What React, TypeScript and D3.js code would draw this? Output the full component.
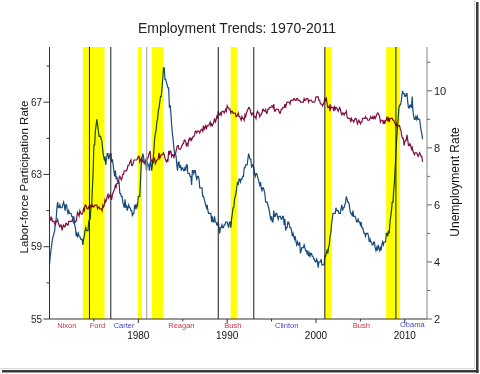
import React from "react";
import * as d3 from "d3";

const W = 480;
const H = 374;

// Monthly series, January 1970 through January 2012
const startYear = 1970;

// Civilian labor-force participation rate (%), monthly
const participationRate: number[] = [
  60.4, 60.6, 60.5, 60.6, 60.4, 60.4, 60.4, 60.3, 60.2, 60.4, 60.4, 60.5, // 1970
  60.3, 60.2, 60.1, 60.2, 60.2, 59.9, 60.1, 60.2, 60.1, 60.1, 60.3, 60.3, // 1971
  60.2, 60.2, 60.4, 60.4, 60.4, 60.4, 60.4, 60.5, 60.4, 60.3, 60.3, 60.4, // 1972
  60.4, 60.7, 60.9, 60.8, 60.7, 61.0, 60.9, 60.8, 60.8, 60.9, 61.1, 61.0, // 1973
  61.3, 61.3, 61.2, 61.1, 61.1, 61.2, 61.3, 61.2, 61.3, 61.2, 61.3, 61.2, // 1974
  61.2, 61.3, 61.3, 61.3, 61.3, 61.1, 61.2, 61.2, 61.1, 61.1, 61.1, 61.0, // 1975
  61.3, 61.2, 61.3, 61.6, 61.5, 61.6, 61.8, 61.9, 61.7, 61.8, 61.9, 61.8, // 1976
  61.6, 61.9, 62.0, 62.1, 62.2, 62.4, 62.3, 62.5, 62.5, 62.5, 62.8, 62.9, // 1977
  62.8, 62.7, 62.8, 63.0, 63.0, 63.2, 63.2, 63.2, 63.2, 63.3, 63.5, 63.5, // 1978
  63.6, 63.7, 63.8, 63.5, 63.5, 63.6, 63.8, 63.8, 63.8, 63.8, 63.8, 63.9, // 1979
  64.0, 64.0, 63.7, 63.8, 63.9, 63.7, 63.8, 63.7, 63.6, 63.7, 63.8, 63.6, // 1980
  63.9, 63.9, 64.1, 64.2, 64.3, 63.7, 63.8, 63.8, 63.6, 63.9, 63.9, 63.6, // 1981
  63.7, 63.8, 63.8, 63.9, 64.2, 63.9, 64.0, 64.1, 64.1, 64.1, 64.2, 64.1, // 1982
  63.9, 63.8, 63.7, 63.8, 63.7, 64.3, 64.1, 64.3, 64.3, 64.0, 64.1, 64.1, // 1983
  63.9, 64.1, 64.1, 64.3, 64.5, 64.6, 64.6, 64.4, 64.4, 64.4, 64.5, 64.6, // 1984
  64.7, 64.7, 64.9, 64.9, 64.8, 64.6, 64.7, 64.6, 64.9, 65.0, 64.9, 65.0, // 1985
  64.9, 65.0, 65.1, 65.1, 65.2, 65.4, 65.4, 65.3, 65.4, 65.4, 65.4, 65.3, // 1986
  65.4, 65.5, 65.5, 65.4, 65.7, 65.5, 65.6, 65.7, 65.5, 65.7, 65.7, 65.7, // 1987
  65.8, 65.9, 65.7, 65.8, 65.7, 65.8, 65.9, 66.1, 65.9, 66.0, 66.2, 66.1, // 1988
  66.5, 66.3, 66.3, 66.4, 66.3, 66.5, 66.5, 66.5, 66.4, 66.5, 66.6, 66.5, // 1989
  66.8, 66.7, 66.7, 66.6, 66.6, 66.4, 66.5, 66.5, 66.4, 66.4, 66.4, 66.4, // 1990
  66.2, 66.2, 66.3, 66.4, 66.2, 66.2, 66.1, 66.0, 66.2, 66.1, 66.1, 66.0, // 1991
  66.3, 66.2, 66.4, 66.5, 66.6, 66.7, 66.7, 66.6, 66.4, 66.3, 66.4, 66.4, // 1992
  66.2, 66.2, 66.2, 66.1, 66.4, 66.5, 66.4, 66.4, 66.2, 66.3, 66.3, 66.4, // 1993
  66.6, 66.6, 66.5, 66.5, 66.6, 66.4, 66.4, 66.6, 66.6, 66.7, 66.7, 66.7, // 1994
  66.8, 66.8, 66.7, 66.9, 66.5, 66.5, 66.6, 66.6, 66.6, 66.6, 66.5, 66.4, // 1995
  66.4, 66.6, 66.6, 66.7, 66.7, 66.7, 66.9, 66.7, 66.9, 67.0, 67.0, 67.0, // 1996
  67.0, 66.9, 67.1, 67.1, 67.1, 67.1, 67.2, 67.2, 67.1, 67.1, 67.2, 67.2, // 1997
  67.1, 67.1, 67.1, 67.0, 67.0, 67.0, 67.0, 67.0, 67.2, 67.1, 67.1, 67.2, // 1998
  67.2, 67.2, 67.0, 67.1, 67.1, 67.1, 67.1, 67.0, 67.0, 67.0, 67.0, 67.1, // 1999
  67.3, 67.3, 67.3, 67.3, 67.1, 67.1, 66.9, 66.9, 66.9, 66.8, 66.9, 67.0, // 2000
  67.2, 67.1, 67.2, 66.9, 66.7, 66.7, 66.8, 66.5, 66.8, 66.7, 66.7, 66.7, // 2001
  66.5, 66.8, 66.6, 66.7, 66.7, 66.6, 66.5, 66.6, 66.7, 66.6, 66.4, 66.3, // 2002
  66.4, 66.4, 66.3, 66.4, 66.4, 66.5, 66.2, 66.1, 66.1, 66.1, 66.1, 65.9, // 2003
  66.1, 66.0, 66.0, 65.9, 66.0, 66.1, 66.1, 66.0, 65.8, 65.9, 66.0, 65.9, // 2004
  65.8, 65.9, 65.9, 66.1, 66.1, 66.1, 66.1, 66.2, 66.1, 66.1, 66.0, 66.0, // 2005
  66.0, 66.1, 66.2, 66.1, 66.1, 66.2, 66.1, 66.2, 66.1, 66.2, 66.3, 66.4, // 2006
  66.4, 66.3, 66.2, 65.9, 66.0, 66.0, 66.0, 65.8, 66.0, 65.8, 66.0, 66.0, // 2007
  66.2, 66.0, 66.1, 65.9, 66.1, 66.1, 66.1, 66.1, 66.0, 66.0, 65.9, 65.8, // 2008
  65.7, 65.8, 65.6, 65.7, 65.7, 65.7, 65.5, 65.4, 65.1, 65.0, 65.0, 64.6, // 2009
  64.8, 64.9, 64.9, 65.2, 64.9, 64.6, 64.6, 64.7, 64.6, 64.4, 64.5, 64.3, // 2010
  64.2, 64.1, 64.2, 64.2, 64.2, 64.1, 64.0, 64.1, 64.2, 64.1, 64.0, 64.0, // 2011
  63.7, // 2012
];

// Civilian unemployment rate (%), monthly
const unemploymentRate: number[] = [
  3.9, 4.2, 4.4, 4.6, 4.8, 4.9, 5.0, 5.1, 5.4, 5.5, 5.9, 6.1, // 1970
  5.9, 5.9, 6.0, 5.9, 5.9, 5.9, 6.0, 6.1, 6.0, 5.8, 6.0, 6.0, // 1971
  5.8, 5.7, 5.8, 5.7, 5.7, 5.7, 5.6, 5.6, 5.5, 5.6, 5.3, 5.2, // 1972
  4.9, 5.0, 4.9, 5.0, 4.9, 4.9, 4.8, 4.8, 4.8, 4.6, 4.8, 4.9, // 1973
  5.1, 5.2, 5.1, 5.1, 5.1, 5.4, 5.5, 5.5, 5.9, 6.0, 6.6, 7.2, // 1974
  8.1, 8.1, 8.6, 8.8, 9.0, 8.8, 8.6, 8.4, 8.4, 8.4, 8.3, 8.2, // 1975
  7.9, 7.7, 7.6, 7.7, 7.4, 7.6, 7.8, 7.8, 7.6, 7.7, 7.8, 7.8, // 1976
  7.5, 7.6, 7.4, 7.2, 7.0, 7.2, 6.9, 7.0, 6.8, 6.8, 6.8, 6.4, // 1977
  6.4, 6.3, 6.3, 6.1, 6.0, 5.9, 6.2, 5.9, 6.0, 5.8, 5.9, 6.0, // 1978
  5.9, 5.9, 5.8, 5.8, 5.6, 5.7, 5.7, 6.0, 5.9, 6.0, 5.9, 6.0, // 1979
  6.3, 6.3, 6.3, 6.9, 7.5, 7.6, 7.8, 7.7, 7.5, 7.5, 7.5, 7.2, // 1980
  7.5, 7.4, 7.4, 7.2, 7.5, 7.5, 7.2, 7.4, 7.6, 7.9, 8.3, 8.5, // 1981
  8.6, 8.9, 9.0, 9.3, 9.4, 9.6, 9.8, 9.8, 10.1, 10.4, 10.8, 10.8, // 1982
  10.4, 10.4, 10.3, 10.2, 10.1, 10.1, 9.4, 9.5, 9.2, 8.8, 8.5, 8.3, // 1983
  8.0, 7.8, 7.8, 7.7, 7.4, 7.2, 7.5, 7.5, 7.3, 7.4, 7.2, 7.3, // 1984
  7.3, 7.2, 7.2, 7.3, 7.2, 7.4, 7.4, 7.1, 7.1, 7.1, 7.0, 7.0, // 1985
  6.7, 7.2, 7.2, 7.1, 7.2, 7.2, 7.0, 6.9, 7.0, 7.0, 6.9, 6.6, // 1986
  6.6, 6.6, 6.6, 6.3, 6.3, 6.2, 6.1, 6.0, 5.9, 6.0, 5.8, 5.7, // 1987
  5.7, 5.7, 5.7, 5.4, 5.6, 5.4, 5.4, 5.6, 5.4, 5.4, 5.3, 5.3, // 1988
  5.4, 5.2, 5.0, 5.2, 5.2, 5.3, 5.2, 5.2, 5.3, 5.3, 5.4, 5.4, // 1989
  5.4, 5.3, 5.2, 5.4, 5.4, 5.2, 5.5, 5.7, 5.9, 5.9, 6.2, 6.3, // 1990
  6.4, 6.6, 6.8, 6.7, 6.9, 6.9, 6.8, 6.9, 6.9, 7.0, 7.0, 7.3, // 1991
  7.3, 7.4, 7.4, 7.4, 7.6, 7.8, 7.7, 7.6, 7.6, 7.3, 7.4, 7.4, // 1992
  7.3, 7.1, 7.0, 7.1, 7.1, 7.0, 6.9, 6.8, 6.7, 6.8, 6.6, 6.5, // 1993
  6.6, 6.6, 6.5, 6.4, 6.1, 6.1, 6.1, 6.0, 5.9, 5.8, 5.6, 5.5, // 1994
  5.6, 5.4, 5.4, 5.8, 5.6, 5.6, 5.7, 5.7, 5.6, 5.5, 5.6, 5.6, // 1995
  5.6, 5.5, 5.5, 5.6, 5.6, 5.3, 5.5, 5.1, 5.2, 5.2, 5.4, 5.4, // 1996
  5.3, 5.2, 5.2, 5.1, 4.9, 5.0, 4.9, 4.8, 4.9, 4.7, 4.6, 4.7, // 1997
  4.6, 4.6, 4.7, 4.3, 4.4, 4.5, 4.5, 4.5, 4.6, 4.5, 4.4, 4.4, // 1998
  4.3, 4.4, 4.2, 4.3, 4.2, 4.3, 4.3, 4.2, 4.2, 4.1, 4.1, 4.0, // 1999
  4.0, 4.1, 4.0, 3.8, 4.0, 4.0, 4.0, 4.1, 3.9, 3.9, 3.9, 3.9, // 2000
  4.2, 4.2, 4.3, 4.4, 4.3, 4.5, 4.6, 4.9, 5.0, 5.3, 5.5, 5.7, // 2001
  5.7, 5.7, 5.7, 5.9, 5.8, 5.8, 5.8, 5.7, 5.7, 5.7, 5.9, 6.0, // 2002
  5.8, 5.9, 5.9, 6.0, 6.1, 6.3, 6.2, 6.1, 6.1, 6.0, 5.8, 5.7, // 2003
  5.7, 5.6, 5.8, 5.6, 5.6, 5.6, 5.5, 5.4, 5.4, 5.5, 5.4, 5.4, // 2004
  5.3, 5.4, 5.2, 5.2, 5.1, 5.0, 5.0, 4.9, 5.0, 5.0, 5.0, 4.9, // 2005
  4.7, 4.8, 4.7, 4.7, 4.6, 4.6, 4.7, 4.7, 4.5, 4.4, 4.5, 4.4, // 2006
  4.6, 4.5, 4.4, 4.5, 4.4, 4.6, 4.7, 4.6, 4.7, 4.7, 4.7, 5.0, // 2007
  5.0, 4.9, 5.1, 5.0, 5.4, 5.6, 5.8, 6.1, 6.1, 6.5, 6.8, 7.3, // 2008
  7.8, 8.3, 8.7, 9.0, 9.4, 9.5, 9.5, 9.6, 9.8, 10.0, 9.9, 9.9, // 2009
  9.8, 9.8, 9.9, 9.9, 9.6, 9.4, 9.4, 9.5, 9.5, 9.4, 9.8, 9.3, // 2010
  9.1, 9.0, 9.0, 9.1, 9.0, 9.1, 9.0, 9.0, 9.0, 8.8, 8.6, 8.5, // 2011
  8.3, // 2012
];

// Recession periods (decimal years)
const recessionStarts = [1973.75, 1979.95, 1981.5, 1990.4, 2001.0, 2007.9];
const recessionEnds = [1976.2, 1980.4, 1982.8, 1991.1, 2001.75, 2009.45];

// Changes of administration (decimal years)
const transitionYears = [1974.5, 1976.9, 1980.95, 1989.0, 1993.0, 2001.0, 2009.0];
const transitionShade = ["#1a1a1a", "#1a1a1a", "#9a9a9a", "#1a1a1a", "#1a1a1a", "#1a1a1a", "#1a1a1a"];

// Presidents, with label positions (decimal years) and party
const presidentNames = ["Nixon", "Ford", "Carter", "Reagan", "Bush", "Clinton", "Bush", "Obama"];
const presidentLabelYears = [1971.95, 1975.4, 1978.4, 1984.85, 1990.65, 1996.7, 2005.1, 2010.85];
const presidentParty = ["R", "R", "D", "R", "R", "D", "R", "D"];

const yearTicks = [1980, 1990, 2000, 2010];
const yearMinorTicks = [1975, 1985, 1995, 2005];
const leftTicks = [55, 59, 63, 67];
const leftMinorTicks = [57, 61, 65, 69];
const rightTicks = [2, 4, 6, 8, 10];
const rightMinorTicks = [3, 5, 7, 9, 11];

const FONT = "Liberation Sans, Arial, Helvetica, sans-serif";

export default function App() {
  const plotLeft = 49.5;
  const plotRight = 427;
  const plotTop = 48;
  const plotBottom = 319;

  const x = d3.scaleLinear().domain([1970, 2012.5]).range([plotLeft, plotRight]);
  const yLeft = d3.scaleLinear().domain([55, 70]).range([plotBottom, plotTop]);
  const yRight = d3.scaleLinear().domain([2, 11.5]).range([plotBottom, plotTop]);

  const lfprLine = d3
    .line<number>()
    .x((_, i) => x(startYear + i / 12))
    .y((d) => yLeft(d));
  const unrateLine = d3
    .line<number>()
    .x((_, i) => x(startYear + i / 12))
    .y((d) => yRight(d));

  const partyColor = (p: string) => (p === "R" ? "#cc3344" : "#4646c8");

  return (
    <svg
      width={W}
      height={H}
      viewBox={`0 0 ${W} ${H}`}
      style={{ position: "absolute", left: 0, top: 0, background: "#fff" }}
    >
      <rect x={0} y={0} width={W} height={H} fill="#fff" />

      {/* frame shadow */}
      <line x1={474.5} y1={0} x2={474.5} y2={368.5} stroke="#d8d8d8" strokeWidth={1} />
      <line x1={0} y1={368.5} x2={474.5} y2={368.5} stroke="#d8d8d8" strokeWidth={1} />
      <rect x={476} y={2} width={2.5} height={371} fill="#3a3a3a" />
      <rect x={2} y={370} width={476.5} height={2.5} fill="#3a3a3a" />

      <text
        x={237}
        y={33}
        textAnchor="middle"
        fontFamily={FONT}
        fontSize={14}
        fill="#222"
      >
        Employment Trends: 1970-2011
      </text>

      {/* series */}
      <path d={lfprLine(participationRate) || ""} fill="none" stroke="#7d0f42" strokeWidth={1.2} />
      <path d={unrateLine(unemploymentRate) || ""} fill="none" stroke="#164a7e" strokeWidth={1.2} />

      {/* recession bands */}
      <g style={{ mixBlendMode: "multiply" }}>
        {recessionStarts.map((s, i) => (
          <rect
            key={i}
            x={x(s)}
            y={plotTop - 1}
            width={x(recessionEnds[i]) - x(s)}
            height={plotBottom - plotTop + 1}
            fill="#ffff00"
          />
        ))}
      </g>

      {/* administration changes */}
      {transitionYears.map((t, i) => (
        <line
          key={i}
          x1={x(t)}
          x2={x(t)}
          y1={plotTop - 1}
          y2={plotBottom}
          stroke={transitionShade[i]}
          strokeWidth={1}
        />
      ))}

      {/* left axis */}
      <line x1={plotLeft} x2={plotLeft} y1={plotTop - 1} y2={plotBottom} stroke="#333" />
      {leftTicks.map((v) => (
        <g key={v}>
          <line x1={plotLeft - 6} x2={plotLeft} y1={yLeft(v)} y2={yLeft(v)} stroke="#333" />
          <text
            x={42}
            y={yLeft(v)}
            dy="0.35em"
            textAnchor="end"
            fontFamily={FONT}
            fontSize={10}
            fill="#222"
          >
            {v}
          </text>
        </g>
      ))}
      {leftMinorTicks.map((v) => (
        <line key={v} x1={plotLeft - 3} x2={plotLeft} y1={yLeft(v)} y2={yLeft(v)} stroke="#333" />
      ))}
      <text
        transform={`translate(28, ${177}) rotate(-90)`}
        textAnchor="middle"
        fontFamily={FONT}
        fontSize={11.5}
        fill="#111"
      >
        Labor-force Participation Rate
      </text>

      {/* right axis */}
      <line x1={plotRight} x2={plotRight} y1={plotTop - 1} y2={plotBottom} stroke="#888" />
      {rightTicks.map((v) => (
        <g key={v}>
          <line x1={plotRight} x2={plotRight + 5} y1={yRight(v)} y2={yRight(v)} stroke="#666" />
          <text
            x={434}
            y={yRight(v)}
            dy="0.35em"
            textAnchor="start"
            fontFamily={FONT}
            fontSize={11}
            fill="#222"
          >
            {v}
          </text>
        </g>
      ))}
      {rightMinorTicks.map((v) => (
        <line key={v} x1={plotRight} x2={plotRight + 3} y1={yRight(v)} y2={yRight(v)} stroke="#666" />
      ))}
      <text
        transform={`translate(459, ${182}) rotate(-90)`}
        textAnchor="middle"
        fontFamily={FONT}
        fontSize={12}
        fill="#111"
      >
        Unemployment Rate
      </text>

      {/* bottom axis */}
      <line x1={plotLeft} x2={plotRight} y1={plotBottom} y2={plotBottom} stroke="#333" />
      {yearTicks.map((t) => (
        <g key={t}>
          <line x1={x(t)} x2={x(t)} y1={plotBottom} y2={plotBottom + 4} stroke="#333" />
          <text
            x={x(t)}
            y={338.5}
            textAnchor="middle"
            fontFamily={FONT}
            fontSize={10}
            fill="#111"
          >
            {t}
          </text>
        </g>
      ))}
      {yearMinorTicks.map((t) => (
        <line key={t} x1={x(t)} x2={x(t)} y1={plotBottom} y2={plotBottom + 2.5} stroke="#333" />
      ))}

      {/* presidents */}
      {presidentNames.map((n, i) => (
        <text
          key={i}
          x={x(presidentLabelYears[i])}
          y={i === presidentNames.length - 1 ? 326.5 : 327.5}
          textAnchor="middle"
          fontFamily={FONT}
          fontSize={7.5}
          fill={partyColor(presidentParty[i])}
        >
          {n}
        </text>
      ))}
    </svg>
  );
}
